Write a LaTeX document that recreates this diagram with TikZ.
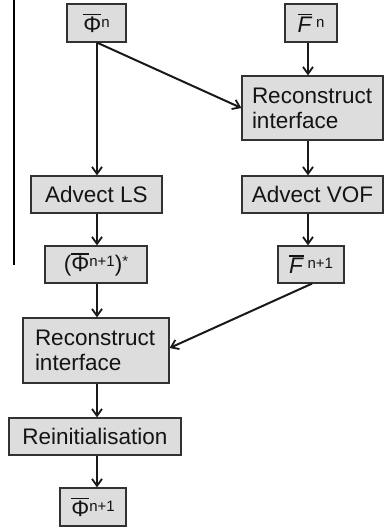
\documentclass[tikz,border=0pt]{standalone}
\usepackage{fontspec}
\setmainfont{Liberation Sans}
\usetikzlibrary{arrows.meta}
\definecolor{boxfill}{RGB}{221,221,221}
\definecolor{boxline}{RGB}{50,50,50}
\definecolor{txt}{RGB}{20,20,20}
\newcommand{\obar}[1]{\leavevmode\vbox{\hrule height 1.6pt\kern1.2pt\hbox{#1}}}
\newcommand{\sups}[1]{\raisebox{5pt}{\fontsize{15}{15}\selectfont #1}}
\begin{document}
\begin{tikzpicture}[x=1pt,y=-1pt,
  box/.style={draw=boxline, fill=boxfill, line width=1.2pt, inner sep=0pt, text=txt,
    font={\fontsize{22.5}{25}\selectfont}},
  arr/.style={-{Straight Barb[length=7pt,width=10pt,line width=1.8pt]}, line width=2pt, draw=black!90}]
\useasboundingbox (0,0) rectangle (384,528);
\coordinate (cl) at (97,0);
\coordinate (cr) at (308,0);

\draw[line width=1.3pt] (14,0) -- (14,265);

\node[box, minimum width=59pt, minimum height=38pt] (phin) at (96.5,23) {\obar{Φ}\sups{n}};
\node[box, minimum width=52pt, minimum height=38pt] (fn) at (311,23) {\obar{\textit{F}}\,\sups{n}};
\node[box, minimum height=64pt, text width=121pt, inner xsep=10pt, align=left] (rec1) at (312.5,108) {Reconstruct\\interface};
\node[box, minimum width=131pt, minimum height=37pt] (als) at (96.5,194.5) {Advect LS};
\node[box, minimum width=141pt, minimum height=37pt] (avof) at (312.5,194.5) {Advect VOF};
\node[box, minimum width=102pt, minimum height=37pt] (phis) at (96,264.5) {(\obar{Φ}\sups{n+1})\sups{*}};
\node[box, minimum width=66pt, minimum height=37pt] (fn1) at (311,264.5) {\obar{\textit{F}}\,\sups{n+1}};
\node[box, minimum height=65pt, text width=122pt, inner xsep=12pt, align=left] (rec2) at (96,350.5) {Reconstruct\\interface};
\node[box, minimum width=172pt, minimum height=37pt] (reinit) at (95,436.5) {Reinitialisation};
\node[box, minimum width=66pt, minimum height=38pt] (phin1) at (93,507) {\obar{Φ}\sups{n+1}};

\draw[arr] (phin.south -| cl) -- (als.north -| cl);
\draw[arr] (phin.south -| cl) -- (rec1.west);
\draw[arr] (fn.south -| cr) -- (rec1.north -| cr);
\draw[arr] (rec1.south -| cr) -- (avof.north -| cr);
\draw[arr] (als.south -| cl) -- (phis.north -| cl);
\draw[arr] (avof.south -| cr) -- (fn1.north -| cr);
\draw[arr] (phis.south -| cl) -- (rec2.north -| cl);
\draw[arr] ([xshift=1pt]fn1.south) -- ([yshift=2.5pt]rec2.east);
\draw[arr] (rec2.south -| cl) -- (reinit.north -| cl);
\draw[arr] (reinit.south -| cl) -- (phin1.north -| cl);
\end{tikzpicture}
\end{document}
